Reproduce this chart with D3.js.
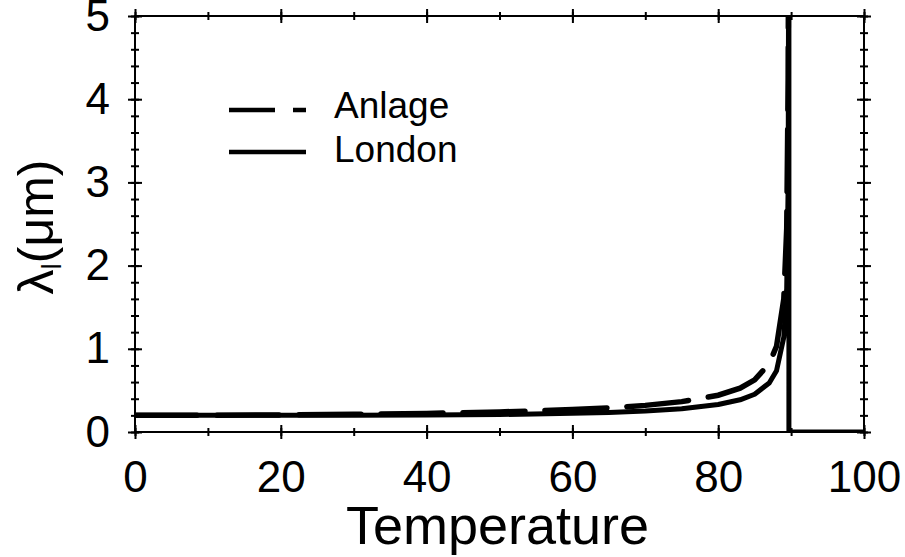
<!DOCTYPE html>
<html>
<head>
<meta charset="utf-8">
<script src="https://cdn.jsdelivr.net/npm/d3@7/dist/d3.min.js"></script>
<style>
  html, body { margin: 0; padding: 0; background: #fff; }
  svg { display: block; font-family: "Liberation Sans", Arial, Helvetica, sans-serif; }
</style>
</head>
<body>
<svg id="chart" width="905" height="557"></svg>
<script>
(function () {
  'use strict';

  // values (temperature, penetration depth in um)
  const londonT = [0, 10, 20, 30, 40, 50, 60, 65, 70, 75, 80, 83, 85, 87, 88, 89, 89.4, 89.6, 89.68, 89.7, 89.7, 100];
  const londonL = [0.2, 0.2, 0.2, 0.201, 0.204, 0.21, 0.224, 0.235, 0.252, 0.28, 0.33, 0.387, 0.454, 0.59, 0.737, 1.14, 1.73, 3.0, 6.7, 6.7, 0, 0];
  const anlageT = [0, 10, 20, 30, 40, 50, 60, 65, 70, 75, 80, 83, 85, 87, 88, 89, 89.4, 89.6, 89.65];
  const anlageL = [0.2, 0.201, 0.205, 0.212, 0.223, 0.241, 0.269, 0.29, 0.32, 0.365, 0.442, 0.527, 0.626, 0.821, 1.03, 1.6, 2.45, 4.24, 6.0];
  const xTicks = [0, 20, 40, 60, 80, 100];
  const yTicks = [0, 1, 2, 3, 4, 5];
  const legendNames = ['Anlage', 'London'];

  const svg = d3.select('#chart');
  const left = 135;
  const right = 864;
  const top = 16;
  const bottom = 432;

  const x = d3.scaleLinear().domain([0, 100]).range([left, right]);
  const y = d3.scaleLinear().domain([0, 5]).range([bottom, top]);

  svg.append('defs').append('clipPath').attr('id', 'plot-clip')
    .append('rect')
    .attr('x', left).attr('y', top)
    .attr('width', right - left).attr('height', bottom - top);

  const line = d3.line().x((d) => x(d[0])).y((d) => y(d[1]));
  const london = londonT.map((t, i) => [t, londonL[i]]);
  const anlage = anlageT.map((t, i) => [t, anlageL[i]]);

  const plot = svg.append('g').attr('clip-path', 'url(#plot-clip)');
  plot.append('path')
    .attr('d', line(anlage))
    .attr('fill', 'none')
    .attr('stroke', '#000')
    .attr('stroke-width', 5.5)
    .attr('stroke-linecap', 'round')
    .attr('stroke-dasharray', '62,20');
  plot.append('path')
    .attr('d', line(london))
    .attr('fill', 'none')
    .attr('stroke', '#000')
    .attr('stroke-width', 5)
    .attr('stroke-linejoin', 'round');

  // frame with ticks crossing every side
  function tickAxis(axis, translate, size) {
    const g = svg.append('g').attr('transform', translate).call(axis.tickSize(size).tickFormat(''));
    g.select('.domain').remove();
    g.selectAll('.tick line').attr('stroke', '#000').attr('stroke-width', 2);
    return g;
  }
  const xMinor = d3.range(0, 101, 10);
  const yMinor = d3.range(0, 5.01, 0.2);
  [bottom, top].forEach((py) => {
    tickAxis(d3.axisBottom(x).tickValues(xMinor), `translate(0,${py - 4})`, 8);
    tickAxis(d3.axisBottom(x).tickValues(xTicks), `translate(0,${py - 7})`, 14);
  });
  [left, right].forEach((px) => {
    tickAxis(d3.axisRight(y).tickValues(yMinor), `translate(${px - 4},0)`, 8);
    tickAxis(d3.axisRight(y).tickValues(yTicks), `translate(${px - 7},0)`, 14);
  });
  svg.append('rect')
    .attr('x', left).attr('y', top)
    .attr('width', right - left).attr('height', bottom - top)
    .attr('fill', 'none').attr('stroke', '#000').attr('stroke-width', 2);

  // tick labels
  const xl = svg.append('g').attr('transform', `translate(0,${bottom})`)
    .call(d3.axisBottom(x).tickValues(xTicks).tickFormat(d3.format('d')).tickSize(0).tickPadding(29));
  xl.select('.domain').remove();
  xl.attr('font-size', null).attr('font-family', null);
  xl.selectAll('text').attr('font-size', 44).attr('fill', '#000');

  const yl = svg.append('g').attr('transform', `translate(${left},0)`)
    .call(d3.axisLeft(y).tickValues(yTicks).tickFormat(d3.format('d')).tickSize(0).tickPadding(25));
  yl.select('.domain').remove();
  yl.attr('font-size', null).attr('font-family', null);
  yl.selectAll('text').attr('font-size', 44).attr('fill', '#000');

  svg.append('text')
    .attr('x', (left + right) / 2 - 2)
    .attr('y', 544)
    .attr('text-anchor', 'middle')
    .attr('font-size', 54)
    .text('Temperature');

  const ylab = svg.append('text')
    .attr('transform', 'translate(53,227) rotate(-90)')
    .attr('text-anchor', 'middle')
    .attr('font-size', 50);
  ylab.append('tspan').text('λ');
  ylab.append('tspan').attr('font-size', 28).attr('dy', 8).text('l');
  ylab.append('tspan').attr('dy', -8).text('(μm)');

  // legend
  const legend = svg.append('g');
  legendNames.forEach((name, i) => {
    const ly = 110 + i * 42;
    legend.append('line')
      .attr('x1', 229).attr('x2', 306)
      .attr('y1', ly).attr('y2', ly)
      .attr('stroke', '#000')
      .attr('stroke-width', 4.5)
      .attr('stroke-dasharray', i === 0 ? '46,18,13,100' : null);
    legend.append('text')
      .attr('x', 334)
      .attr('y', ly + 8 + i * 2)
      .attr('font-size', 37)
      .text(name);
  });
})();
</script>
</body>
</html>
